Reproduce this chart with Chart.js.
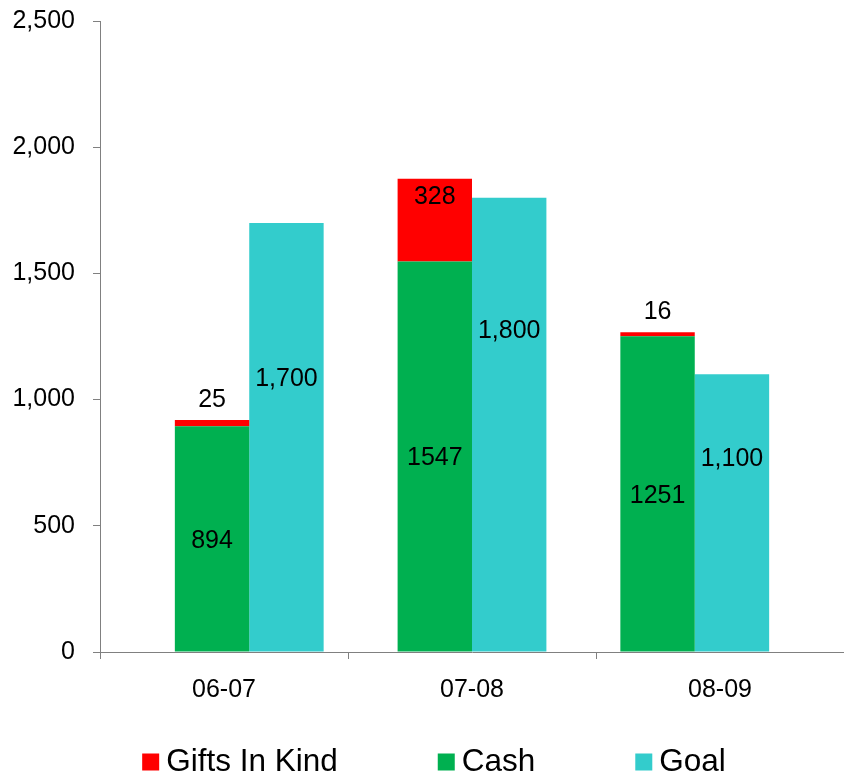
<!DOCTYPE html>
<html>
<head>
<meta charset="utf-8">
<script src="https://cdn.jsdelivr.net/npm/chart.js@4/dist/chart.umd.min.js"></script>
<style>
    html, body { margin: 0; padding: 0; background: #fff; }
</style>
</head>
<body>
<canvas id="grafico" width="844" height="775"></canvas>
<script>
// dati
const categories = ['06-07', '07-08', '08-09'];
const giftsInKind = [25, 328, 16];
const cash = [894, 1547, 1251];
const goal = [1700, 1800, 1100];
const yTicks = [0, 500, 1000, 1500, 2000, 2500];

const FONT = '"Liberation Sans", Arial, sans-serif';
const colori = { gifts: '#FF0000', cash: '#00B050', goal: '#33CCCC' };

// dove stanno le etichette del goal (frazione dell'altezza della barra)
const goalLabelAt = [0.64, 0.71, 0.70];
// ordine della legenda: Gifts, Cash, Goal
const legendOrder = [1, 0, 2];

function fmtComma(v) {
    return v.toLocaleString('en-US');
}

// le barre nell'originale sono un po' piu' strette tra loro delle categorie
function punti(valori) {
    return valori.map((v, i) => ({ x: i, y: v }));
}

const barLabels = {
    id: 'barLabels',
    afterDatasetsDraw(chart) {
        const ctx = chart.ctx;
        ctx.save();
        ctx.font = '25px ' + FONT;
        ctx.fillStyle = '#000';
        ctx.textAlign = 'center';
        ctx.textBaseline = 'middle';
        chart.data.datasets.forEach((ds, di) => {
            const meta = chart.getDatasetMeta(di);
            meta.data.forEach((bar, i) => {
                const v = ds.data[i].y;
                const h = bar.base - bar.y;
                let y;
                let testo = String(v);
                if (di === 0) {
                    // cash: al centro
                    y = bar.y + h / 2;
                } else if (di === 1) {
                    // gifts: sopra se la barra e' sottile, dentro altrimenti
                    y = h < 30 ? bar.y - 22 : bar.y + 16;
                } else {
                    y = bar.base - h * goalLabelAt[i];
                    testo = fmtComma(v);
                }
                ctx.fillText(testo, bar.x, y + 2);
            });
        });
        ctx.restore();
    }
};

const bottomLegend = {
    id: 'bottomLegend',
    afterDraw(chart) {
        const ctx = chart.ctx;
        const items = legendOrder.map(i => chart.data.datasets[i]);
        const box = 17, gap = 7, space = 100;
        ctx.save();
        ctx.font = '31.5px ' + FONT;
        ctx.textAlign = 'left';
        ctx.textBaseline = 'middle';
        const widths = items.map(d => box + gap + ctx.measureText(d.label).width);
        const total = widths.reduce((a, b) => a + b, 0) + space * (items.length - 1);
        let x = (chart.width - total) / 2 + 12;
        const y = chart.height - 13;
        items.forEach((d, k) => {
            ctx.fillStyle = d.backgroundColor;
            ctx.fillRect(x, y - box / 2, box, box);
            ctx.fillStyle = '#000';
            ctx.fillText(d.label, x + box + gap, y);
            x += widths[k] + space;
        });
        ctx.restore();
    }
};

const ctx = document.getElementById('grafico').getContext('2d');

new Chart(ctx, {
    type: 'bar',
    data: {
        labels: categories,
        datasets: [
            { label: 'Cash', data: punti(cash), backgroundColor: colori.cash, stack: 'raccolto', xAxisID: 'xb' },
            { label: 'Gifts In Kind', data: punti(giftsInKind), backgroundColor: colori.gifts, stack: 'raccolto', xAxisID: 'xb' },
            { label: 'Goal', data: punti(goal), backgroundColor: colori.goal, stack: 'obiettivo', xAxisID: 'xb' }
        ]
    },
    options: {
        responsive: false,
        animation: false,
        devicePixelRatio: 1,
        categoryPercentage: 0.668,
        barPercentage: 1.0,
        layout: { padding: { top: 21, left: 0, right: 0, bottom: 71 } },
        plugins: {
            legend: { display: false },
            tooltip: { enabled: false }
        },
        scales: {
            x: {
                type: 'category',
                offset: true,
                grid: { offset: true, drawOnChartArea: false, drawTicks: true, tickLength: 7, color: '#808080' },
                border: { color: '#808080', width: 1 },
                ticks: { color: '#000', font: { family: FONT, size: 25 }, padding: 16 },
                afterFit(scale) { scale.height = 52; }
            },
            xb: {
                type: 'linear',
                display: false,
                stacked: true,
                offset: false,
                min: -0.67,
                max: 2.67,
                afterBuildTicks(scale) { scale.ticks = categories.map((c, i) => ({ value: i })); }
            },
            y: {
                stacked: true,
                min: 0,
                max: 2500,
                grid: { drawOnChartArea: false, drawTicks: true, tickLength: 7, color: '#808080' },
                border: { color: '#808080', width: 1 },
                ticks: {
                    color: '#000',
                    font: { family: FONT, size: 25 },
                    padding: 18,
                    callback: v => fmtComma(v)
                },
                afterBuildTicks(scale) { scale.ticks = yTicks.map(v => ({ value: v })); },
                afterFit(scale) {
                    scale.width = 100;
                    scale.paddingTop = 0;
                    scale.paddingBottom = 0;
                }
            }
        }
    },
    plugins: [barLabels, bottomLegend]
});
</script>
</body>
</html>
